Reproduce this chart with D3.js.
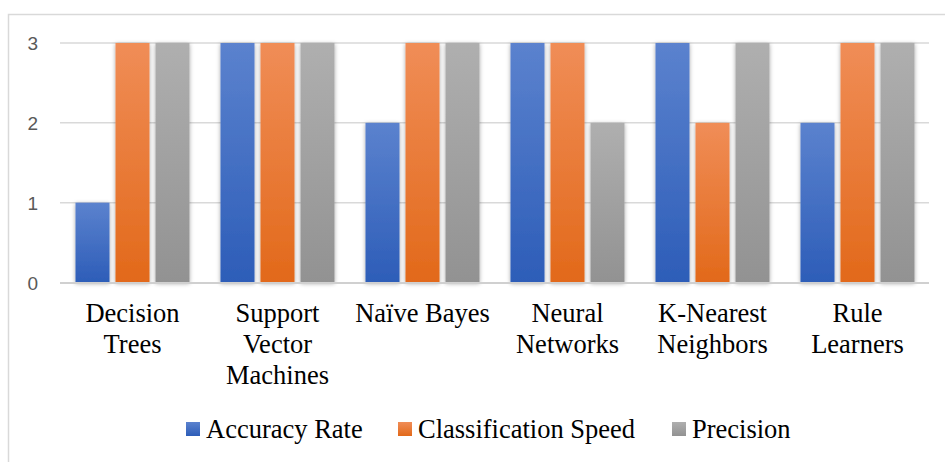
<!DOCTYPE html>
<html>
<head>
<meta charset="utf-8">
<script src="https://cdn.jsdelivr.net/npm/d3@7"></script>
<style>
  html, body { margin: 0; padding: 0; background: #fff; }
  svg { display: block; }
</style>
</head>
<body>
<script>
const categories = ["Decision Trees", "Support Vector Machines", "Naïve Bayes", "Neural Networks", "K-Nearest Neighbors", "Rule Learners"];
const seriesNames = ["Accuracy Rate", "Classification Speed", "Precision"];
const accuracyRate = [1, 3, 2, 3, 3, 2];
const classificationSpeed = [3, 3, 3, 3, 2, 3];
const precision = [3, 3, 3, 2, 3, 3];
const yTicks = [0, 1, 2, 3];

const seriesValues = [accuracyRate, classificationSpeed, precision];
const gradStops = [
  ["#5B82CE", "#2D5DB8"],
  ["#F08D57", "#E2691A"],
  ["#AFAFAF", "#929292"]
];

const W = 945, H = 462;
const svg = d3.select("body").append("svg").attr("width", W).attr("height", H);
const defs = svg.append("defs");

gradStops.forEach((s, i) => {
  const g = defs.append("linearGradient").attr("id", "g" + i)
    .attr("x1", 0).attr("y1", 0).attr("x2", 0).attr("y2", 1);
  g.append("stop").attr("offset", "0%").attr("stop-color", s[0]);
  g.append("stop").attr("offset", "100%").attr("stop-color", s[1]);
});
const f = defs.append("filter").attr("id", "sh")
  .attr("x", "-30%").attr("y", "-10%").attr("width", "160%").attr("height", "130%");
f.append("feDropShadow").attr("dx", 0).attr("dy", 1).attr("stdDeviation", 2)
  .attr("flood-color", "#000").attr("flood-opacity", 0.35);

// frame
svg.append("path").attr("d", `M8.5,${H} L8.5,14.5 L${W},14.5`)
  .attr("fill", "none").attr("stroke", "#d9d9d9").attr("stroke-width", 1.5);

const x0 = d3.scaleBand().domain(categories).range([60, 930]).paddingInner(0).paddingOuter(0);
const x1 = d3.scaleBand().domain(seriesNames).range([15.5, 129.5]).paddingInner(0.15).paddingOuter(0);
const y = d3.scaleLinear().domain([0, 3]).range([282.5, 43]);

// grid
svg.append("g").selectAll("line").data(yTicks.filter(t => t > 0)).join("line")
  .attr("x1", 60).attr("x2", 929).attr("y1", d => y(d)).attr("y2", d => y(d))
  .attr("stroke", "#d9d9d9").attr("stroke-width", 1.5);

// y labels
const yAxis = d3.axisLeft(y).tickValues(yTicks).tickSize(0).tickPadding(0).tickFormat(d3.format("d"));
const ya = svg.append("g").attr("transform", "translate(38,0)").call(yAxis);
ya.select(".domain").remove();
ya.selectAll("text").attr("font-family", "'Liberation Sans', Arial, sans-serif")
  .attr("font-size", 19).attr("fill", "#595959").attr("dy", "0.35em").attr("text-anchor", "end");

// bars
const groups = svg.append("g").selectAll("g").data(categories).join("g")
  .attr("transform", d => `translate(${x0(d)},0)`);
groups.selectAll("rect").data((d, ci) => seriesNames.map((s, si) => ({ s, si, v: seriesValues[si][ci] })))
  .join("rect")
  .attr("x", d => x1(d.s)).attr("width", x1.bandwidth())
  .attr("y", d => y(d.v)).attr("height", d => y(0) - y(d.v))
  .attr("fill", d => `url(#g${d.si})`)
  .attr("filter", "url(#sh)");

// baseline
svg.append("line").attr("x1", 60).attr("x2", 929).attr("y1", y(0) + 0.5).attr("y2", y(0) + 0.5)
  .attr("stroke", "#d0d0d0").attr("stroke-width", 2);

// x labels
const serif = "'Liberation Serif', 'Times New Roman', serif";
const xa = svg.append("g").attr("transform", `translate(0,${y(0)})`)
  .call(d3.axisBottom(x0).tickSize(0).tickPadding(0));
xa.select(".domain").remove();
function wrap(textSel, width) {
  textSel.each(function() {
    const t = d3.select(this);
    const words = t.text().split(/\s+/);
    t.text(null);
    let lines = [], line = [];
    const tmp = t.append("tspan");
    words.forEach(w => {
      line.push(w);
      tmp.text(line.join(" "));
      if (tmp.node().getComputedTextLength() > width && line.length > 1) {
        line.pop(); lines.push(line.join(" ")); line = [w];
      }
    });
    lines.push(line.join(" "));
    tmp.remove();
    lines.forEach((l, i) => t.append("tspan").attr("x", 0).attr("y", 39 + i * 31).text(l));
  });
}
xa.selectAll("text").attr("font-family", serif).attr("font-size", 26.5).attr("fill", "#000")
  .attr("dy", null).call(wrap, 142);

// legend
const legendX = [186, 398, 672];
const lg = svg.append("g").selectAll("g").data(seriesNames).join("g")
  .attr("transform", (d, i) => `translate(${legendX[i]},422)`);
lg.append("rect").attr("width", 14).attr("height", 14).attr("fill", (d, i) => `url(#g${i})`);
lg.append("text").attr("x", 20).attr("y", 15.5).text(d => d)
  .attr("font-family", serif).attr("font-size", 26.5).attr("fill", "#000");
</script>
</body>
</html>
